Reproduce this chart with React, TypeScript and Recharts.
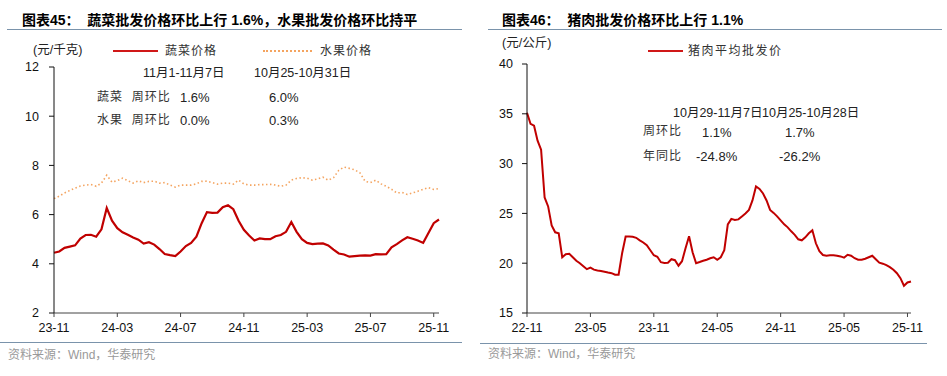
import React from "react";
import { LineChart, Line, XAxis, YAxis } from "recharts";

// 图表45: 蔬菜 / 水果 批发价格 (元/千克), one point every ~10 days from 23-11
const vegTicks = [0, 4, 8, 12, 16, 20, 24];
const vegTickLabels = ["23-11", "24-03", "24-07", "24-11", "25-03", "25-07", "25-11"];
const vegPrice = [
  4.45, 4.5, 4.65, 4.7, 4.75, 5.03, 5.17, 5.18, 5.1, 5.4,
  6.27, 5.75, 5.45, 5.28, 5.18, 5.07, 4.98, 4.82, 4.88, 4.78,
  4.6, 4.4, 4.35, 4.31, 4.5, 4.72, 4.85, 5.1, 5.65, 6.1,
  6.07, 6.08, 6.3, 6.38, 6.22, 5.75, 5.38, 5.15, 4.95, 5.03,
  5.0, 5.0, 5.12, 5.17, 5.3, 5.7, 5.3, 5.0, 4.85, 4.8,
  4.82, 4.83, 4.75, 4.58, 4.42, 4.38, 4.29, 4.31, 4.33, 4.34,
  4.33, 4.39, 4.38, 4.39, 4.67, 4.8, 4.95, 5.08, 5.02, 4.95,
  4.85, 5.25, 5.65, 5.8,
];
const fruitPrice = [
  6.65, 6.75, 6.88, 6.98, 7.08, 7.16, 7.2, 7.22, 7.15, 7.28,
  7.6, 7.32, 7.38, 7.48, 7.38, 7.28, 7.37, 7.3, 7.35, 7.36,
  7.28, 7.3, 7.2, 7.12, 7.2, 7.2, 7.2, 7.25, 7.35, 7.36,
  7.3, 7.24, 7.28, 7.28, 7.24, 7.4, 7.25, 7.2, 7.2, 7.22,
  7.22, 7.23, 7.2, 7.15, 7.2, 7.4, 7.47, 7.5, 7.48, 7.4,
  7.45, 7.52, 7.4, 7.5, 7.8, 7.93, 7.88, 7.82, 7.7, 7.35,
  7.3, 7.4, 7.25, 7.15, 7.03, 6.88, 6.9, 6.82, 6.88, 6.95,
  7.03, 7.1, 7.02, 7.06,
];

// 图表46: 猪肉平均批发价 (元/公斤), from 22-11
const porkTicks = [0, 6, 12, 18, 24, 30, 36];
const porkTickLabels = ["22-11", "23-05", "23-11", "24-05", "24-11", "25-05", "25-11"];
const porkPrice = [
  35.1, 34.0, 33.8, 32.3, 31.4, 26.6, 25.7, 23.8, 23.1, 23.0,
  20.6, 20.9, 20.95, 20.6, 20.25, 20.0, 19.7, 19.4, 19.55, 19.35,
  19.27, 19.22, 19.15, 19.07, 19.0, 18.84, 18.84, 21.0, 22.68, 22.68,
  22.65, 22.55, 22.3, 22.08, 21.8, 21.3, 20.8, 20.65, 20.1, 20.03,
  20.05, 20.4, 20.3, 19.75, 20.2, 21.5, 22.7, 21.1, 20.0, 20.12,
  20.25, 20.35, 20.5, 20.6, 20.35, 20.6, 21.3, 23.9, 24.45, 24.35,
  24.4, 24.7, 25.0, 25.35, 26.3, 27.7, 27.45, 27.0, 26.3, 25.35,
  25.05, 24.7, 24.3, 23.9, 23.6, 23.2, 22.85, 22.4, 22.3, 22.6,
  23.0, 23.3, 22.0, 21.2, 20.82, 20.75, 20.8, 20.8, 20.75, 20.68,
  20.55, 20.85, 20.75, 20.5, 20.35, 20.35, 20.45, 20.6, 20.75, 20.4,
  20.05, 19.95, 19.8, 19.6, 19.34, 19.0, 18.5, 17.74, 18.07, 18.17,
];

const RED = "#C00000";
const ORANGE = "#F4A460";
const RULE = "#7A93AB";
const FONT = "'Liberation Sans', Arial, 'Noto Sans CJK SC', sans-serif";
const CJK = "'Liberation Sans', Arial, 'Noto Sans CJK SC', sans-serif";

const vegData = vegPrice.map((v, i) => ({ t: i / 3, veg: v, fruit: fruitPrice[i] }));
const porkData = porkPrice.map((v, i) => ({ t: i / 3, pork: v }));

function Txt({ x, y, size = 12.5, color = "#222", weight = 400, spacing = 0, children }: any) {
  return (
    <div
      style={{
        position: "absolute",
        left: x,
        top: y,
        transform: "translateY(-50%)",
        fontSize: size,
        lineHeight: 1,
        color,
        fontWeight: weight,
        fontFamily: CJK,
        letterSpacing: spacing,
        whiteSpace: "nowrap",
      }}
    >
      {children}
    </div>
  );
}

function Rule({ x1, x2, y }: { x1: number; x2: number; y: number }) {
  return (
    <div style={{ position: "absolute", left: x1, top: y, width: x2 - x1, height: 1, background: RULE }} />
  );
}

const tickStyle = { fontSize: 12.5, fill: "#111", fontFamily: FONT };

export default function App() {
  return (
    <div style={{ position: "absolute", left: 0, top: 0, width: 947, height: 376, background: "#fff", overflow: "hidden" }}>
      {/* left panel */}
      <Txt x={22} y={20} size={14} weight={700} color="#000">图表45：&nbsp;&nbsp;蔬菜批发价格环比上行 1.6%，水果批发价格环比持平</Txt>
      <Rule x1={7} x2={462} y={29} />
      <div style={{ position: "absolute", left: 0, top: 0 }}>
        <LineChart width={470} height={376} data={vegData} margin={{ top: 67, right: 31, bottom: 33, left: 10 }}>
          <XAxis
            type="number"
            dataKey="t"
            domain={[0, 73 / 3]}
            ticks={vegTicks}
            tickFormatter={(v: number) => vegTickLabels[vegTicks.indexOf(v)]}
            tick={tickStyle}
            tickSize={4}
            tickMargin={6}
            height={30}
            stroke="#444"
            interval={0}
          />
          <YAxis
            domain={[2, 12]}
            ticks={[2, 4, 6, 8, 10, 12]}
            tick={tickStyle}
            tickSize={5}
            tickMargin={10}
            width={44}
            stroke="#111"
            interval={0}
          />
          <Line type="linear" dataKey="fruit" stroke={ORANGE} strokeWidth={1.6} strokeDasharray="1.5 2.5" dot={false} isAnimationActive={false} />
          <Line type="linear" dataKey="veg" stroke={RED} strokeWidth={2.2} dot={false} isAnimationActive={false} />
        </LineChart>
      </div>
      <Txt x={33} y={50}>(元/千克)</Txt>
      <div style={{ position: "absolute", left: 113, top: 50, width: 45, height: 2, background: "#D01818" }} />
      <Txt x={165} y={51} size={12} spacing={1} color="#333">蔬菜价格</Txt>
      <div style={{ position: "absolute", left: 263, top: 50, width: 49, height: 0, borderTop: `2px dotted ${ORANGE}` }} />
      <Txt x={320} y={51} size={12} spacing={1} color="#333">水果价格</Txt>

      <Txt x={143} y={73}>11月1-11月7日</Txt>
      <Txt x={254} y={73}>10月25-10月31日</Txt>
      <Txt x={97} y={97} size={12} spacing={1} color="#333">蔬菜&nbsp;&nbsp;周环比</Txt>
      <Txt x={180} y={97} size={13}>1.6%</Txt>
      <Txt x={269} y={97} size={13}>6.0%</Txt>
      <Txt x={97} y={120} size={12} spacing={1} color="#333">水果&nbsp;&nbsp;周环比</Txt>
      <Txt x={180} y={120} size={13}>0.0%</Txt>
      <Txt x={269} y={120} size={13}>0.3%</Txt>

      <Rule x1={0} x2={462} y={342} />
      <Txt x={8} y={355} size={12} color="#999">资料来源：Wind，华泰研究</Txt>

      {/* right panel */}
      <Txt x={502} y={20} size={14} weight={700} color="#000">图表46：&nbsp;&nbsp;猪肉批发价格环比上行 1.1%</Txt>
      <Rule x1={488} x2={942} y={29} />
      <div style={{ position: "absolute", left: 470, top: 0 }}>
        <LineChart width={477} height={376} data={porkData} margin={{ top: 64, right: 36, bottom: 33, left: 10 }}>
          <XAxis
            type="number"
            dataKey="t"
            domain={[0, 109 / 3]}
            ticks={porkTicks}
            tickFormatter={(v: number) => porkTickLabels[porkTicks.indexOf(v)]}
            tick={tickStyle}
            tickSize={4}
            tickMargin={6}
            height={30}
            stroke="#444"
            interval={0}
          />
          <YAxis
            domain={[15, 40]}
            ticks={[15, 20, 25, 30, 35, 40]}
            tick={tickStyle}
            tickSize={5}
            tickMargin={9}
            width={47}
            stroke="#111"
            interval={0}
          />
          <Line type="linear" dataKey="pork" stroke={RED} strokeWidth={2} dot={false} isAnimationActive={false} />
        </LineChart>
      </div>
      <Txt x={502} y={43}>(元/公斤)</Txt>
      <div style={{ position: "absolute", left: 648, top: 50, width: 35, height: 2, background: "#D01818" }} />
      <Txt x={688} y={51} size={12} spacing={1.5} color="#333">猪肉平均批发价</Txt>

      <Txt x={673} y={113}>10月29-11月7日</Txt>
      <Txt x={762} y={113}>10月25-10月28日</Txt>
      <Txt x={643} y={131} size={12} spacing={1} color="#333">周环比</Txt>
      <Txt x={702} y={132} size={13}>1.1%</Txt>
      <Txt x={785} y={132} size={13}>1.7%</Txt>
      <Txt x={643} y={156} size={12} spacing={1} color="#333">年同比</Txt>
      <Txt x={696} y={156} size={13}>-24.8%</Txt>
      <Txt x={779} y={156} size={13}>-26.2%</Txt>

      <Rule x1={480} x2={927} y={343} />
      <Txt x={488} y={354} size={12} color="#999">资料来源：Wind，华泰研究</Txt>
    </div>
  );
}
